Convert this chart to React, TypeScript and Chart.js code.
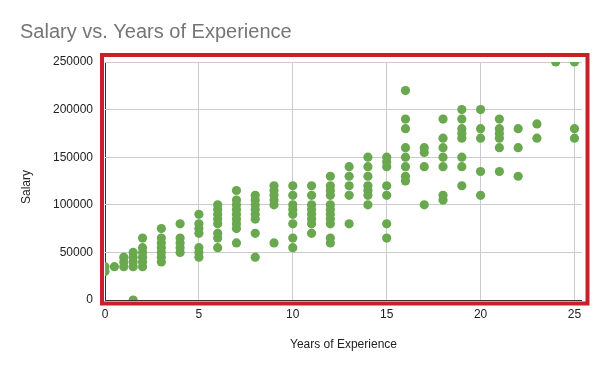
import React, { useEffect, useRef } from "react";
import { Chart, registerables } from "chart.js";

Chart.register(...registerables);

// Years of experience for each column of points
const experienceYears = [0, 0.5, 1, 1.5, 2, 3, 4, 5, 6, 7, 8, 9, 10, 11, 12, 13, 14, 15, 16, 17, 18, 19, 20, 21, 22, 23, 24, 25];

// Salaries (in thousands) observed at each experience level
const salaryGroups: number[][] = [
  [30, 35],
  [35],
  [35, 40, 45],
  [0, 35, 40, 45, 50],
  [35, 40, 45, 50, 55, 65],
  [40, 45, 50, 55, 60, 65, 75],
  [50, 55, 60, 65, 80],
  [45, 50, 55, 70, 75, 80, 90],
  [55, 65, 70, 80, 85, 90, 95, 100],
  [60, 75, 80, 85, 90, 95, 100, 105, 115],
  [45, 70, 85, 90, 95, 100, 105, 110],
  [60, 100, 105, 110, 115, 120],
  [55, 65, 80, 90, 95, 100, 110, 120],
  [70, 80, 85, 90, 95, 100, 110, 120],
  [60, 65, 80, 85, 90, 95, 100, 110, 115, 120, 130],
  [80, 110, 120, 130, 140],
  [100, 110, 115, 120, 130, 140, 150],
  [65, 80, 110, 120, 140, 145, 150],
  [125, 130, 140, 150, 160, 180, 190, 220],
  [100, 140, 155, 160],
  [105, 110, 140, 150, 160, 170, 190],
  [120, 140, 150, 170, 175, 180, 190, 200],
  [110, 135, 170, 180, 200],
  [135, 160, 170, 175, 180, 190],
  [130, 160, 180],
  [170, 185],
  [250],
  [170, 180, 250],
];

const xTickStep = 5;
const yTickStep = 50000;

const chartTitle = "Salary vs. Years of Experience";
const xAxisTitle = "Years of Experience";
const yAxisTitle = "Salary";

const FONT = "'Liberation Sans', Arial, sans-serif";

export default function App() {
  const canvasRef = useRef<HTMLCanvasElement | null>(null);

  useEffect(() => {
    document.body.style.margin = "0";
    const canvas = canvasRef.current;
    if (!canvas) return;

    const points: { x: number; y: number }[] = [];
    experienceYears.forEach((yr, i) => {
      salaryGroups[i].forEach((s) => points.push({ x: yr, y: s * 1000 }));
    });

    const overlay = {
      id: "overlay",
      afterDraw(chart: any) {
        const { ctx, chartArea } = chart;
        const { left, top, right, bottom } = chartArea;
        ctx.save();
        // title
        ctx.fillStyle = "#757575";
        ctx.font = `20px ${FONT}`;
        ctx.textAlign = "left";
        ctx.textBaseline = "alphabetic";
        ctx.fillText(chartTitle, 20, 38);
        // axis titles
        ctx.fillStyle = "#222222";
        ctx.font = `12px ${FONT}`;
        ctx.textAlign = "center";
        ctx.textBaseline = "middle";
        ctx.fillText(xAxisTitle, (left + right) / 2, 345);
        ctx.save();
        ctx.translate(27, 187);
        ctx.rotate(-Math.PI / 2);
        ctx.fillText(yAxisTitle, 0, 0);
        ctx.restore();
        // red highlight frame
        ctx.strokeStyle = "#c8202a";
        ctx.lineWidth = 4;
        ctx.strokeRect(left - 3, top - 7, right - left + 8.5, bottom - top + 10.5);
        ctx.restore();
      },
    };

    const chart = new Chart(canvas, {
      type: "scatter",
      data: {
        datasets: [
          {
            label: "Salary",
            data: points,
            backgroundColor: "#6aa84f",
            borderColor: "#6aa84f",
            borderWidth: 0,
            pointRadius: 4.6,
            pointHoverRadius: 4.6,
          },
        ],
      },
      options: {
        animation: false,
        responsive: false,
        maintainAspectRatio: false,
        layout: { padding: { left: 0, top: 62, right: 18, bottom: 0 } },
        plugins: {
          legend: { display: false },
          title: { display: false },
          tooltip: { enabled: false },
        },
        scales: {
          x: {
            type: "linear",
            min: 0,
            max: 25.4,
            border: { display: false },
            grid: {
              drawTicks: false,
              color: (c: any) => (c.tick && c.tick.value === 0 ? "#333333" : "#cccccc"),
              lineWidth: 1,
            },
            ticks: {
              stepSize: xTickStep,
              includeBounds: false,
              padding: 7,
              color: "#222222",
              font: { family: FONT, size: 12 },
              maxRotation: 0,
            },
            afterFit: (s: any) => {
              s.height = 70;
            },
          },
          y: {
            type: "linear",
            min: 0,
            max: 250000,
            border: { display: false },
            grid: {
              drawTicks: false,
              color: (c: any) => (c.tick && c.tick.value === 0 ? "#333333" : "#cccccc"),
              lineWidth: 1,
            },
            ticks: {
              stepSize: yTickStep,
              padding: 12,
              color: "#222222",
              font: { family: FONT, size: 12 },
              callback: (v: any) => String(v),
            },
            afterFit: (s: any) => {
              s.width = 105;
            },
          },
        },
      },
      plugins: [overlay],
    });

    return () => chart.destroy();
  }, []);

  return (
    <div style={{ width: 600, height: 370 }}>
      <canvas ref={canvasRef} width={600} height={370} style={{ display: "block" }} />
    </div>
  );
}
